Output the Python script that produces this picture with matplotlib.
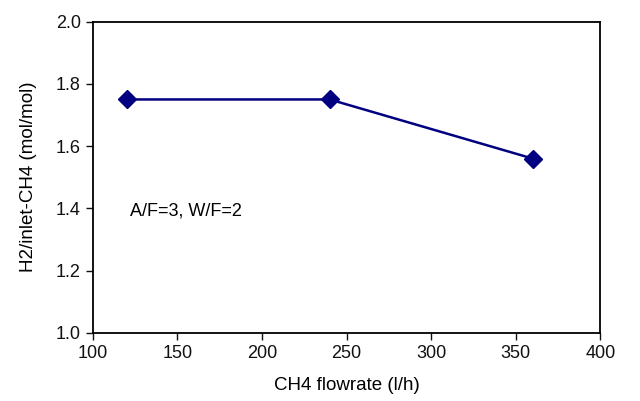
import matplotlib.pyplot as plt

# data
flowrate = [120, 240, 360]
h2_ratio = [1.75, 1.75, 1.56]

x_ticks = [100, 150, 200, 250, 300, 350, 400]
y_ticks = [1.0, 1.2, 1.4, 1.6, 1.8, 2.0]

plt.rcParams["font.family"] = ["Liberation Sans", "DejaVu Sans"]

fig = plt.figure(figsize=(6.4, 4.01), dpi=100)
ax = fig.add_axes([0.145, 0.17, 0.793, 0.776])

ax.plot(flowrate, h2_ratio, color="#000080", linewidth=1.8,
        marker="D", markersize=9, markerfacecolor="#000080", markeredgecolor="#000080")

ax.set_xlim(100, 400)
ax.set_ylim(1.0, 2.0)
ax.set_xticks(x_ticks)
ax.set_yticks(y_ticks)
ax.set_yticklabels([f"{v:.1f}" for v in y_ticks])
ax.tick_params(direction="out", length=5, width=1, labelsize=13, colors="#111111")
for spine in ax.spines.values():
    spine.set_linewidth(1.3)
    spine.set_color("black")

ax.set_xlabel("CH4 flowrate (l/h)", fontsize=13.5, labelpad=11)
ax.set_ylabel("H2/inlet-CH4 (mol/mol)", fontsize=13.5, labelpad=14)

ax.text(122, 1.39, "A/F=3, W/F=2", fontsize=13, va="center")

fig.savefig("out.png", dpi=100)
